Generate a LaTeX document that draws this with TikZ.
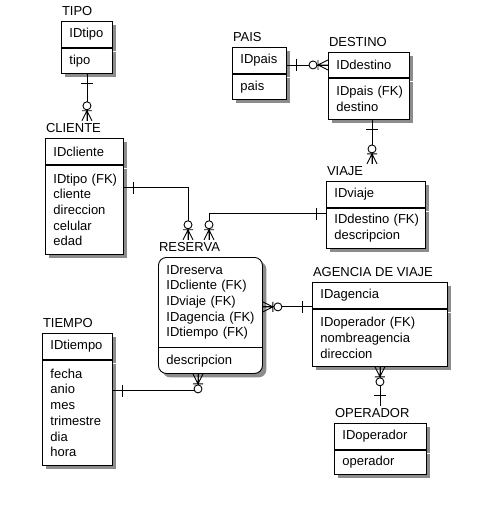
\documentclass[tikz,border=0pt]{standalone}
\usepackage{fontspec}
\setmainfont{Liberation Sans}
\usetikzlibrary{positioning, calc, shadows}

\begin{document}
\begin{tikzpicture}[
    x=1pt, y=-1pt,
    font=\fontsize{13}{15.7}\selectfont,
    line width=0.9pt,
    field/.style={rectangle, anchor=north west, align=left,
                  inner xsep=8pt, inner ysep=0pt,
                  text width=#1, minimum height=26pt},
    keybox/.style={field=#1, draw, fill=white,
                   drop shadow={shadow xshift=4pt, shadow yshift=-4pt,
                                fill=black!45, opacity=1}},
    title/.style={inner sep=0pt, outer sep=3pt},
    one/.pic={\draw (10,-6) -- (10,6);},
    many/.pic={\draw (0,-5) -- (10,0) -- (0,5) (0,0) -- (10,0)
                     (10,-5) -- (10,5);
               \draw[fill=white] (15,0) circle (4);},
]
    \useasboundingbox (0,0) rectangle (489,506);

    % TIPO
    \node[keybox=35pt] (tipoA) at (61,21) {IDtipo};
    \node[keybox=35pt, minimum height=25pt] (tipoB) at (tipoA.south west) {tipo};
    \node[title, above right=2pt and -2pt of tipoA.north west] (tipoT) {TIPO};

    % CLIENTE
    \node[keybox=62pt] (clienteA) at (45,138) {IDcliente};
    \node[keybox=62pt, minimum height=89pt] (clienteB) at (clienteA.south west)
          {IDtipo~(FK)\\cliente\\direccion\\celular\\edad};
    \node[title, above right=2pt and -2pt of clienteA.north west] (clienteT) {CLIENTE};

    % PAIS
    \node[keybox=38pt] (paisA) at (232,47) {IDpais};
    \node[keybox=38pt, minimum height=25pt] (paisB) at (paisA.south west) {pais};
    \node[title, above right=2pt and -2pt of paisA.north west] (paisT) {PAIS};

    % DESTINO
    \node[keybox=65pt, minimum height=25pt] (destinoA) at (328,52) {IDdestino};
    \node[keybox=65pt, minimum height=41pt] (destinoB) at (destinoA.south west)
          {IDpais~(FK)\\destino};
    \node[title, above right=2pt and -2pt of destinoA.north west] (destinoT) {DESTINO};

    % VIAJE
    \node[keybox=83pt] (viajeA) at (326,181) {IDviaje};
    \node[keybox=83pt, minimum height=40pt] (viajeB) at (viajeA.south west)
          {IDdestino~(FK)\\descripcion};
    \node[title, above right=2pt and -2pt of viajeA.north west] (viajeT) {VIAJE};

    % RESERVA
    \node[keybox=88pt, rounded corners=8pt, minimum height=116pt] (reservaF) at (158,257) {};
    \node[field=88pt, minimum height=90pt] (reservaA) at (reservaF.north west)
          {IDreserva\\IDcliente~(FK)\\IDviaje~(FK)\\IDagencia~(FK)\\IDtiempo~(FK)};
    \node[field=88pt] (reservaB) at (reservaA.south west) {descripcion};
    \draw (reservaA.south west) -- (reservaA.south east);
    \node[title, above right=2pt and -2pt of reservaF.north west] (reservaT) {RESERVA};

    % TIEMPO
    \node[keybox=54pt] (tiempoA) at (42,333) {IDtiempo};
    \node[keybox=54pt, minimum height=105pt] (tiempoB) at (tiempoA.south west)
          {fecha\\anio\\mes\\trimestre\\dia\\hora};
    \node[title, above right=2pt and -2pt of tiempoA.north west] (tiempoT) {TIEMPO};

    % AGENCIA DE VIAJE
    \node[keybox=119pt] (agenciaA) at (312,282) {IDagencia};
    \node[keybox=119pt, minimum height=57pt] (agenciaB) at (agenciaA.south west)
          {IDoperador~(FK)\\nombreagencia\\direccion};
    \node[title, above right=2pt and -2pt of agenciaA.north west] (agenciaT) {AGENCIA DE VIAJE};

    % OPERADOR
    \node[keybox=76pt] (operadorA) at (334,423) {IDoperador};
    \node[keybox=76pt, minimum height=24pt] (operadorB) at (operadorA.south west) {operador};
    \node[title, above right=2pt and -2pt of operadorA.north west] (operadorT) {OPERADOR};

    % Connectors
    \coordinate (tipoE) at (tipoB.south |- clienteT.north);
    \draw (tipoB.south) -- (tipoE);

    \coordinate (paisE) at (paisA.east |- destinoA.west);
    \draw (paisE) -- (destinoA.west);

    \coordinate (destE) at ($(destinoB.south west)+(44,0)$);
    \coordinate (viajE) at (destE |- viajeT.north);
    \draw (destE) -- (viajE);

    \path (reservaF.north west |- reservaT.north) ++(30,0) coordinate (resC)
          ++(21,0) coordinate (resV);
    \coordinate (viajS) at ($(viajeB.north west)+(0,6)$);
    \draw (viajS) -| (resV);
    \coordinate (cliS) at ($(clienteB.north east)+(0,23)$);
    \draw (cliS) -| (resC);

    \coordinate (tieS) at ($(tiempoB.north east)+(0,31)$);
    \coordinate (resT) at ($(reservaF.south west)+(40,0)$);
    \draw (tieS) -| (resT);

    \coordinate (ageS) at ($(agenciaA.south west)+(0,-2)$);
    \coordinate (resA) at (ageS -| reservaF.east);
    \draw (resA) -- (ageS);

    \coordinate (opeE) at (agenciaB.south |- operadorT.north);
    \draw (agenciaB.south) -- (opeE);

    % Cardinality marks
    \pic[rotate=-90] at (tipoB.south) {one};
    \pic[rotate=90] at (tipoE) {many};
    \pic at (paisE) {one};
    \pic[rotate=180] at (destinoA.west) {many};
    \pic[rotate=-90] at (destE) {one};
    \pic[rotate=90] at (viajE) {many};
    \pic[rotate=180] at (viajS) {one};
    \pic[rotate=90] at (resV) {many};
    \pic at (cliS) {one};
    \pic[rotate=90] at (resC) {many};
    \pic at (tieS) {one};
    \pic[rotate=-90] at (resT) {many};
    \pic at (resA) {many};
    \pic[rotate=180] at (ageS) {one};
    \pic[rotate=-90] at (agenciaB.south) {many};
    \pic[rotate=90] at (opeE) {one};
\end{tikzpicture}
\end{document}
